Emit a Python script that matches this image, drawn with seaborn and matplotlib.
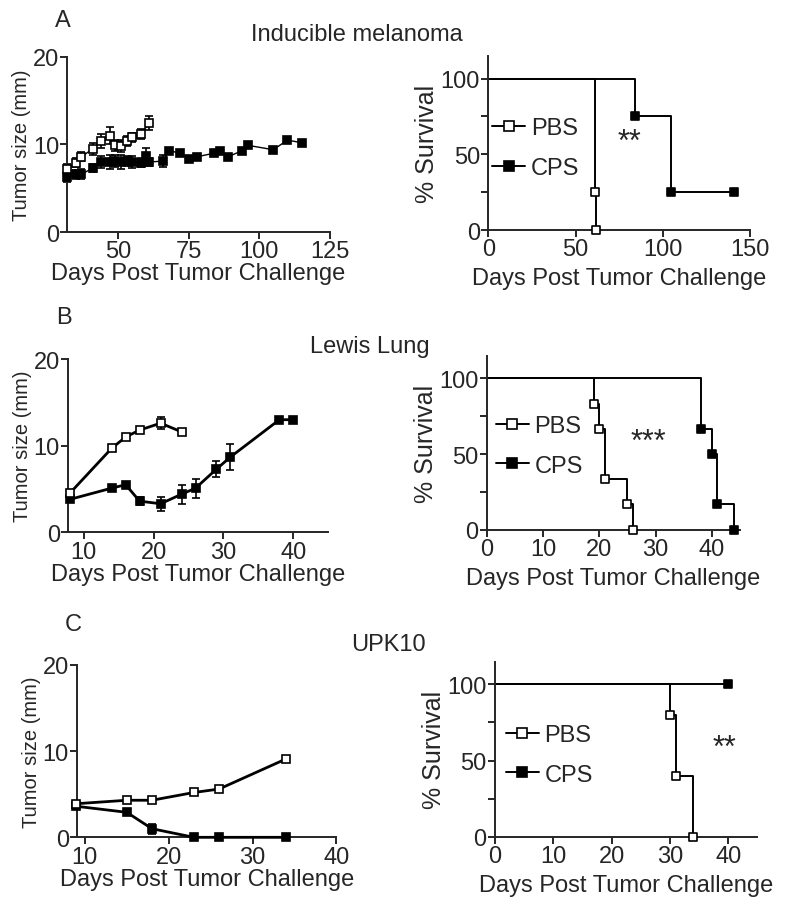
import numpy as np
import pandas as pd
import matplotlib
matplotlib.use("Agg")
import matplotlib.pyplot as plt
import seaborn as sns
from matplotlib.lines import Line2D

# ---- Panel A: inducible melanoma ----
a_pbs_day = [32, 35, 37, 41, 44, 47, 49, 51, 53, 55, 58, 61]
a_pbs_size = [7.2, 7.9, 8.6, 9.5, 10.4, 11.0, 9.9, 9.8, 10.4, 10.8, 11.2, 12.4]
a_pbs_err = [0.6, 0.5, 0.5, 0.7, 0.8, 1.0, 0.6, 0.7, 0.6, 0.5, 0.6, 0.8]
a_cps_day = [32, 35, 37, 41, 44, 47, 49, 51, 53, 55, 58, 60, 61, 66, 68, 72, 75, 78,
             84, 86, 89, 94, 96, 105, 110, 115]
a_cps_size = [6.3, 6.6, 6.6, 7.3, 8.0, 8.0, 8.1, 8.0, 8.1, 8.0, 7.9, 8.7, 8.0, 8.1, 9.3,
              9.0, 8.3, 8.6, 9.0, 9.2, 8.6, 9.3, 9.9, 9.4, 10.5, 10.2]
a_cps_err = [0.6, 0.5, 0.6, 0.5, 0.7, 0.8, 0.7, 0.8, 0.6, 0.7, 0.5, 0.9, 0.5, 0.7, 0.3,
             0.3, 0.3, 0.3, 0.3, 0.3, 0.3, 0.3, 0.3, 0.3, 0.3, 0.3]
a_surv_pbs_t = [0, 61, 62]
a_surv_pbs = [100, 25, 0]
a_surv_cps_t = [0, 84, 105, 141]
a_surv_cps = [100, 75, 25, 25]

# ---- Panel B: Lewis lung ----
b_pbs_day = [8, 14, 16, 18, 21, 24]
b_pbs_size = [4.5, 9.7, 11.0, 11.8, 12.6, 11.6]
b_pbs_err = [0.3, 0.3, 0.3, 0.3, 0.7, 0.3]
b_cps_day = [8, 14, 16, 18, 21, 24, 26, 29, 31, 38, 40]
b_cps_size = [3.8, 5.1, 5.5, 3.6, 3.3, 4.4, 5.1, 7.3, 8.7, 13.0, 13.0]
b_cps_err = [0.3, 0.2, 0.2, 0.5, 0.8, 1.1, 1.1, 0.9, 1.5, 0.2, 0.2]
b_surv_pbs_t = [0, 19, 20, 21, 25, 26]
b_surv_pbs = [100, 83.3, 66.7, 33.3, 16.7, 0]
b_surv_cps_t = [0, 38, 40, 41, 44]
b_surv_cps = [100, 66.7, 50, 16.7, 0]

# ---- Panel C: UPK10 ----
c_pbs_day = [9, 15, 18, 23, 26, 34]
c_pbs_size = [3.9, 4.3, 4.3, 5.2, 5.6, 9.1]
c_pbs_err = [0.2, 0.2, 0.2, 0.2, 0.2, 0.3]
c_cps_day = [9, 15, 18, 23, 26, 34]
c_cps_size = [3.6, 2.9, 1.0, 0, 0, 0]
c_cps_err = [0.2, 0.2, 0.6, 0, 0, 0]
c_surv_pbs_t = [0, 30, 31, 34]
c_surv_pbs = [100, 80, 40, 0]
c_surv_cps_t = [0, 40]
c_surv_cps = [100, 100]

sns.set_theme(style="ticks")
plt.rcParams['font.family'] = ['Liberation Sans', 'DejaVu Sans']
plt.rcParams['axes.linewidth'] = 1.4
plt.rcParams['xtick.major.width'] = 1.4
plt.rcParams['ytick.major.width'] = 1.4
plt.rcParams['xtick.major.size'] = 5
plt.rcParams['ytick.major.size'] = 5
plt.rcParams['ytick.minor.width'] = 1.4
plt.rcParams['ytick.minor.size'] = 5

TICK = 17
LAB = 17

fig = plt.figure(figsize=(8, 9.12), dpi=100)


def growth(rect, pbs, cps, xlim, xticks, lw, ms):
    ax = fig.add_axes(rect)
    for (d, s, e), face in [(cps, 'black'), (pbs, 'white')]:
        ax.errorbar(d, s, yerr=e, fmt='none', ecolor='black', elinewidth=1.2,
                    capsize=3, capthick=1.2, zorder=2)
        df = pd.DataFrame({'day': d, 'size': s})
        sns.lineplot(data=df, x='day', y='size', ax=ax, color='black', lw=lw,
                     marker='s', markersize=ms, markerfacecolor=face,
                     markeredgecolor='black', markeredgewidth=1.2,
                     estimator=None, zorder=3)
    ax.set_xlim(*xlim)
    ax.set_ylim(0, 20)
    ax.set_xticks(xticks)
    ax.set_yticks([0, 10, 20])
    ax.tick_params(labelsize=TICK, pad=1)
    ax.set_xlabel('Days Post Tumor Challenge', fontsize=LAB, labelpad=0)
    ax.set_ylabel('Tumor size (mm)', fontsize=14.5, labelpad=1)
    sns.despine(ax=ax)
    for ln in ax.lines:
        ln.set_clip_on(False)
    return ax


def survival(rect, pbs, cps, xlim, xticks, stars, star_xy, leg_xy):
    ax = fig.add_axes(rect)
    for (t, s), face in [(cps, 'black'), (pbs, 'white')]:
        df = pd.DataFrame({'t': t, 's': s})
        sns.lineplot(data=df, x='t', y='s', ax=ax, color='black', lw=1.4,
                     drawstyle='steps-post', estimator=None, zorder=2)
        sns.scatterplot(data=df.iloc[1:], x='t', y='s', ax=ax, marker='s', s=30,
                        color=face, edgecolor='black', linewidth=1.2, zorder=3,
                        clip_on=False)
    ax.set_xlim(*xlim)
    ax.set_ylim(0, 115)
    ax.set_xticks(xticks)
    ax.set_yticks([0, 50, 100])
    ax.set_yticks([25, 75], minor=True)
    ax.tick_params(labelsize=TICK, pad=1)
    ax.set_xlabel('Days Post Tumor Challenge', fontsize=LAB, labelpad=5)
    ax.set_ylabel('% Survival', fontsize=18, labelpad=1)
    ax.text(star_xy[0], star_xy[1], stars, fontsize=22, ha='center', va='center')
    handles = [Line2D([], [], color='black', lw=1.4, marker='s', markersize=7,
                      markerfacecolor=f, markeredgecolor='black', markeredgewidth=1.2)
               for f in ['white', 'black']]
    ax.legend(handles, ['PBS', 'CPS'], loc='center left', bbox_to_anchor=leg_xy,
              frameon=False, fontsize=17, handlelength=1.4, handletextpad=0.25,
              labelspacing=0.75, borderaxespad=0, borderpad=0)
    sns.despine(ax=ax)
    return ax


growth([0.0842, 0.7445, 0.328, 0.192], (a_pbs_day, a_pbs_size, a_pbs_err),
       (a_cps_day, a_cps_size, a_cps_err), (32, 125), [50, 75, 100, 125], 1.0, 5.5)
survival([0.6104, 0.7467, 0.327, 0.191], (a_surv_pbs_t, a_surv_pbs),
         (a_surv_cps_t, a_surv_cps), (0, 150), [0, 50, 100, 150], '**', (81, 58),
         (0.015, 0.47))

growth([0.0854, 0.4152, 0.325, 0.190], (b_pbs_day, b_pbs_size, b_pbs_err),
       (b_cps_day, b_cps_size, b_cps_err), (7.8, 45), [10, 20, 30, 40], 2.0, 5.5)
survival([0.6084, 0.4181, 0.3166, 0.1908], (b_surv_pbs_t, b_surv_pbs),
         (b_surv_cps_t, b_surv_cps), (0, 45), [0, 10, 20, 30, 40], '***', (28.7, 58),
         (0.035, 0.483))

growth([0.0966, 0.0808, 0.324, 0.189], (c_pbs_day, c_pbs_size, c_pbs_err),
       (c_cps_day, c_cps_size, c_cps_err), (9.1, 40), [10, 20, 30, 40], 2.0, 5.5)
survival([0.6188, 0.0815, 0.328, 0.192], (c_surv_pbs_t, c_surv_pbs),
         (c_surv_cps_t, c_surv_cps), (0, 45), [0, 10, 20, 30, 40], '**', (39.4, 58),
         (0.04, 0.468))

# panel letters and titles
for letter, lx, ly, title, tx, ty in [('A', 63, 21, 'Inducible melanoma', 357, 35),
                                      ('B', 64, 318, 'Lewis Lung', 370, 347),
                                      ('C', 73, 625, 'UPK10', 388, 645)]:
    fig.text(lx / 800, 1 - ly / 912, letter, fontsize=17, ha='center', va='center')
    fig.text(tx / 800, 1 - ty / 912, title, fontsize=17, ha='center', va='center')

fig.savefig('out.png', dpi=100)
